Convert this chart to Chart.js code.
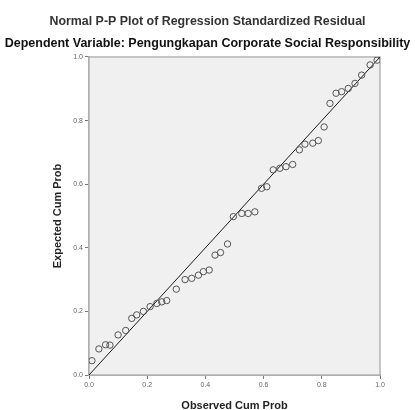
<!DOCTYPE html>
<html lang="en">

<head>
    <meta charset="UTF-8">
    <title>Normal P-P Plot</title>
    <script src="https://cdn.jsdelivr.net/npm/chart.js@4.4.1/dist/chart.umd.min.js"></script>
    <style>
        html, body { margin: 0; padding: 0; background: #fff; }
        #wrap { width: 415px; height: 410px; }
    </style>
</head>

<body>
    <div id="wrap"><canvas id="myChart" width="415" height="410"></canvas></div>

    <script>
        // values
        const observedCumProb = [0.010, 0.034, 0.057, 0.072, 0.100, 0.126, 0.147, 0.164, 0.187, 0.210,
            0.233, 0.250, 0.267, 0.300, 0.330, 0.353, 0.376, 0.393, 0.413, 0.433,
            0.452, 0.476, 0.496, 0.525, 0.547, 0.570, 0.593, 0.611, 0.633, 0.656,
            0.677, 0.700, 0.723, 0.742, 0.769, 0.788, 0.808, 0.828, 0.849, 0.868,
            0.891, 0.914, 0.937, 0.966, 0.990]
        const expectedCumProb = [0.045, 0.082, 0.095, 0.094, 0.126, 0.140, 0.178, 0.189, 0.200, 0.215,
            0.225, 0.230, 0.234, 0.270, 0.300, 0.304, 0.314, 0.325, 0.330, 0.377,
            0.385, 0.412, 0.498, 0.508, 0.508, 0.513, 0.587, 0.592, 0.645, 0.650,
            0.655, 0.662, 0.708, 0.726, 0.729, 0.737, 0.780, 0.854, 0.886, 0.891,
            0.901, 0.917, 0.943, 0.975, 0.990]
        const lineX = [0, 1]
        const lineY = [0, 1]
        const tickValues = [0, 0.2, 0.4, 0.6, 0.8, 1.0]

        const points = observedCumProb.map((x, i) => ({ x: x, y: expectedCumProb[i] }))
        const refLine = lineX.map((x, i) => ({ x: x, y: lineY[i] }))

        // grey plot area + frame, like SPSS
        const plotBox = {
            id: 'plotBox',
            beforeDatasetsDraw(chart) {
                const { ctx, chartArea: a } = chart
                ctx.save()
                ctx.fillStyle = '#f0f0f0'
                ctx.fillRect(a.left, a.top, a.right - a.left, a.bottom - a.top)
                ctx.strokeStyle = '#b4b4b4'
                ctx.lineWidth = 1.5
                ctx.strokeRect(a.left, a.top, a.right - a.left, a.bottom - a.top)
                ctx.restore()
            }
        }

        const fontFam = 'Liberation Sans, Arial'

        const ctx = document.getElementById('myChart').getContext('2d')
        const myChart = new Chart(ctx, {
            type: 'scatter',
            data: {
                datasets: [{
                    data: refLine,
                    showLine: true,
                    borderColor: '#1a1a1a',
                    borderWidth: 1,
                    pointRadius: 0,
                    order: 2
                },
                {
                    data: points,
                    backgroundColor: 'rgba(0,0,0,0)',
                    borderColor: '#555',
                    borderWidth: 1,
                    pointRadius: 3.2,
                    order: 1
                }]
            },
            options: {
                responsive: false,
                animation: false,
                layout: { padding: 0 },
                plugins: {
                    legend: { display: false },
                    tooltip: { enabled: false },
                    title: {
                        display: true,
                        text: 'Normal P-P Plot of Regression Standardized Residual',
                        color: '#333',
                        font: { family: fontFam, size: 12.4, weight: 'bold', lineHeight: 1.2 },
                        padding: { top: 14.5, bottom: 3 }
                    },
                    subtitle: {
                        display: true,
                        text: 'Dependent Variable: Pengungkapan Corporate Social Responsibility',
                        color: '#111',
                        font: { family: fontFam, size: 12.5, weight: 'bold', lineHeight: 1.2 },
                        padding: { top: 4, bottom: 5.6 }
                    }
                },
                scales: {
                    x: {
                        type: 'linear',
                        min: 0,
                        max: 1,
                        afterFit: s => { s.height = 35 },
                        afterBuildTicks: s => { s.ticks = tickValues.map(v => ({ value: v })) },
                        grid: { drawOnChartArea: false, drawTicks: true, tickLength: 4, color: '#777' },
                        border: { color: '#999', width: 2 },
                        ticks: {
                            color: '#666',
                            padding: 2,
                            font: { family: fontFam, size: 7 },
                            callback: v => v.toFixed(1)
                        },
                        title: {
                            display: true,
                            text: 'Observed Cum Prob',
                            color: '#222',
                            font: { family: fontFam, size: 11, weight: 'bold', lineHeight: 0.7 },
                            padding: { top: 0, bottom: 0 }
                        }
                    },
                    y: {
                        type: 'linear',
                        min: 0,
                        max: 1,
                        afterFit: s => { s.width = 89 },
                        afterBuildTicks: s => { s.ticks = tickValues.map(v => ({ value: v })) },
                        grid: { drawOnChartArea: false, drawTicks: true, tickLength: 4, color: '#777' },
                        border: { color: '#999', width: 2 },
                        ticks: {
                            color: '#666',
                            padding: 2,
                            font: { family: fontFam, size: 7 },
                            callback: v => v.toFixed(1)
                        },
                        title: {
                            display: true,
                            text: 'Expected Cum Prob',
                            color: '#222',
                            font: { family: fontFam, size: 11, weight: 'bold', lineHeight: 1.2 },
                            padding: { top: 51.4, bottom: 0 }
                        }
                    },
                    // empty right axis only to keep the white margin on the right
                    yRight: {
                        position: 'right',
                        min: 0,
                        max: 1,
                        afterFit: s => { s.width = 35 },
                        grid: { display: false },
                        border: { display: false },
                        ticks: { display: false }
                    }
                }
            },
            plugins: [plotBox]
        })
    </script>
</body>

</html>
